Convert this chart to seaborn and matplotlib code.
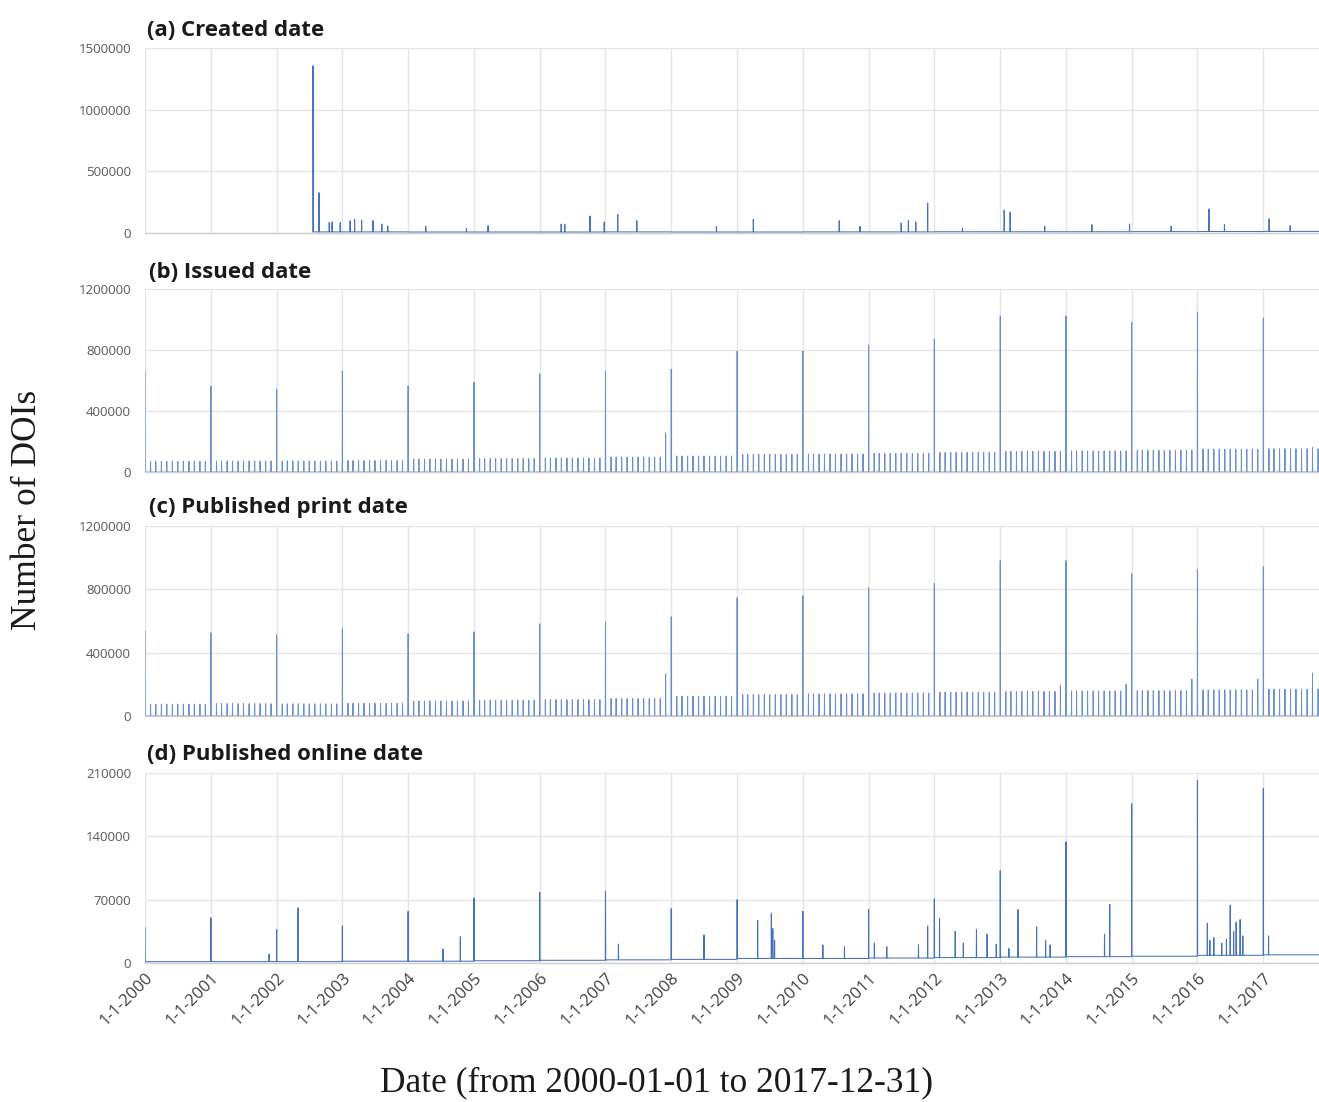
import numpy as np
import pandas as pd
import matplotlib
matplotlib.use("Agg")
import matplotlib.pyplot as plt
import seaborn as sns

# ---------------- data ----------------
years = list(range(2000, 2018))
tick_labels = [f"1-1-{y}" for y in years]

# (a) Created date: no records before mid-2002, then a daily base level per year
created_start = "2002-07-21"
created_base = [0, 0, 9000, 9000, 8000, 8000, 8000, 9000, 8000, 8000,
                9000, 9000, 10000, 10000, 10000, 11000, 12000, 13000]
created_spike_dates = ["2002-07-22", "2002-07-23", "2002-08-24", "2002-10-20", "2002-11-05",
                       "2002-12-20", "2003-02-13", "2003-03-10", "2003-04-18", "2003-06-20",
                       "2003-08-08", "2003-09-10", "2004-04-08", "2004-11-20", "2005-03-20",
                       "2006-04-30", "2006-05-20", "2006-10-07", "2006-12-25", "2007-03-10",
                       "2007-06-24", "2008-09-08", "2009-04-01", "2010-07-22", "2010-11-14",
                       "2011-07-01", "2011-08-10", "2011-09-20", "2011-11-25", "2012-06-05",
                       "2013-01-23", "2013-02-25", "2013-09-05", "2014-05-25", "2014-12-20",
                       "2015-08-08", "2016-03-05", "2016-05-30", "2017-02-02", "2017-05-30"]
created_spike_vals = [1356000, 708000, 327000, 86000, 90000,
                      84000, 100000, 111000, 105000, 100000,
                      73000, 57000, 54000, 38000, 59000,
                      73000, 70000, 138000, 90000, 150000,
                      100000, 54000, 110000, 100000, 54000,
                      80000, 100000, 90000, 243000, 40000,
                      186000, 170000, 54000, 68000, 73000,
                      54000, 195000, 70000, 115000, 60000]

# (b) Issued date: big spike every 1 January, smaller one every first of month
issued_jan = [662000, 564000, 544000, 662000, 564000, 590000, 643000, 662000, 675000,
              793000, 793000, 833000, 872000, 1023000, 1023000, 983000, 1049000, 1010000]
issued_month = [70000, 72000, 72000, 75000, 85000, 88000, 92000, 98000, 105000,
                115000, 118000, 122000, 128000, 135000, 138000, 142000, 150000, 152000]
issued_extra_dates = ["2007-12-01", "2017-10-01"]
issued_extra_vals = [256000, 160000]

# (c) Published print date
print_jan = [538000, 525000, 513000, 551000, 519000, 532000, 582000, 595000, 627000,
             747000, 760000, 810000, 836000, 981000, 981000, 899000, 924000, 943000]
print_month = [75000, 78000, 77000, 80000, 95000, 100000, 103000, 110000, 125000,
               135000, 140000, 145000, 150000, 155000, 158000, 160000, 165000, 170000]
print_extra_dates = ["2007-12-01", "2013-12-01", "2014-12-01", "2015-12-01",
                     "2016-12-01", "2017-10-01"]
print_extra_vals = [266000, 196000, 200000, 232000, 232000, 270000]

# (d) Published online date
online_jan = [39000, 50000, 37000, 41000, 57000, 72000, 78000, 79000, 60000,
              70000, 57000, 59000, 71000, 102000, 134000, 176000, 202000, 193000]
online_base = [1500, 1500, 1500, 2000, 2000, 2500, 3000, 3500, 4000,
               5000, 5000, 5500, 6000, 6500, 7000, 7500, 8500, 9000]
online_spike_dates = ["2001-11-20", "2002-04-30", "2004-07-13", "2004-10-17", "2007-03-14",
                      "2008-07-01", "2009-04-25", "2009-07-10", "2009-07-18", "2009-07-28",
                      "2010-04-22", "2010-08-20", "2011-02-02", "2011-04-12", "2011-10-05",
                      "2011-11-25", "2012-01-30", "2012-04-26", "2012-06-10", "2012-08-22",
                      "2012-10-20", "2012-12-10", "2013-02-18", "2013-04-10", "2013-07-22",
                      "2013-09-10", "2013-10-05", "2014-08-03", "2014-09-01", "2016-02-25",
                      "2016-03-10", "2016-04-01", "2016-05-15", "2016-06-10", "2016-07-01",
                      "2016-07-20", "2016-08-03", "2016-08-25", "2016-09-09", "2017-01-30"]
online_spike_vals = [9600, 61000, 15500, 29000, 21000,
                     31000, 47000, 55000, 38000, 25000,
                     20000, 18000, 22000, 18000, 20000,
                     41000, 49000, 35000, 22000, 37000,
                     32000, 21000, 16000, 59000, 40000,
                     25000, 20000, 32000, 65000, 44000,
                     25000, 28000, 22000, 26000, 64000,
                     35000, 45000, 48000, 30000, 30000]

panel_titles = ["(a) Created date", "(b) Issued date",
                "(c) Published print date", "(d) Published online date"]
y_ticks = [[0, 500000, 1000000, 1500000],
           [0, 400000, 800000, 1200000],
           [0, 400000, 800000, 1200000],
           [0, 70000, 140000, 210000]]

# ---------------- build daily series from the lists ----------------
days = pd.date_range("2000-01-01", "2017-12-31", freq="D")
yi = np.asarray(days.year - 2000)
first = np.asarray(days.day == 1)
jan1 = first & np.asarray(days.month == 1)


def put(series, dates, vals):
    s = pd.Series(series, index=days)
    s.loc[pd.to_datetime(dates)] = vals
    return s.values


created = np.asarray(created_base, float)[yi]
created[days < pd.Timestamp(created_start)] = np.nan
created = put(created, created_spike_dates, created_spike_vals)

issued = np.zeros(len(days))
issued[first] = np.asarray(issued_month, float)[yi[first]]
issued[jan1] = np.asarray(issued_jan, float)[yi[jan1]]
issued = put(issued, issued_extra_dates, issued_extra_vals)

printed = np.zeros(len(days))
printed[first] = np.asarray(print_month, float)[yi[first]]
printed[jan1] = np.asarray(print_jan, float)[yi[jan1]]
printed = put(printed, print_extra_dates, print_extra_vals)

online = np.asarray(online_base, float)[yi]
online[jan1] = np.asarray(online_jan, float)[yi[jan1]]
online = put(online, online_spike_dates, online_spike_vals)

series = [created, issued, printed, online]

# ---------------- drawing ----------------
sns.set_theme(style="white")
plt.rcParams["font.family"] = ["Open Sans", "DejaVu Sans"]

W, H = 1319, 1102
fig = plt.figure(figsize=(W / 100, H / 100), dpi=100)

# (top_px, bottom_px) of each plotting area, title (x_px, y_px)
boxes = [(48, 233), (289, 472), (526, 716), (773, 963)]
title_pos = [(147, 31), (149, 273), (149, 508), (147, 755)]
left_px = 145
line_colors = ["#4672bb", "#6d8fc8", "#6d8fc8", "#4672bb"]
line_widths = [0.75, 0.7, 0.7, 0.75]
xstart = pd.Timestamp("2000-01-01")
xend = pd.Timestamp("2017-11-06")
xticks = [pd.Timestamp(f"{y}-01-01") for y in years]

for i, (top, bot) in enumerate(boxes):
    ax = fig.add_axes([left_px / W, 1 - bot / H, (W - left_px) / W, (bot - top) / H])
    df = pd.DataFrame({"date": days, "value": series[i]})
    sns.lineplot(data=df, x="date", y="value", ax=ax, color=line_colors[i],
                 linewidth=line_widths[i], estimator=None, errorbar=None)
    ax.set_xlim(xstart, xend)
    ax.set_ylim(0, y_ticks[i][-1])
    ax.set_yticks(y_ticks[i])
    ax.set_yticklabels([str(t) for t in y_ticks[i]])
    ax.set_xticks(xticks)
    ax.grid(True, color="#e5e5e5", linewidth=1.0)
    ax.set_axisbelow(True)
    for sp in ["top", "right", "left"]:
        ax.spines[sp].set_visible(False)
    ax.spines["bottom"].set_color("#cfcfcf")
    ax.spines["bottom"].set_linewidth(1.0)
    ax.set_xlabel("")
    ax.set_ylabel("")
    ax.tick_params(axis="y", length=0, pad=10, labelsize=9.5, labelcolor="#595959")
    ax.tick_params(axis="x", length=0)
    if i < 3:
        ax.tick_params(axis="x", labelbottom=False)
    else:
        ax.set_xticklabels(tick_labels)
        ax.tick_params(axis="x", pad=5, labelsize=12, labelcolor="#404040")
        for lab in ax.get_xticklabels():
            lab.set_rotation(45)
            lab.set_ha("right")
            lab.set_rotation_mode("anchor")
    tx, ty = title_pos[i]
    fig.text(tx / W, 1 - ty / H, panel_titles[i], fontsize=16, fontweight="bold",
             color="#1a1a1a", ha="left", va="center")

fig.text(28 / W, 1 - 510 / H, "Number of DOIs", rotation=90, ha="center", va="center",
         fontsize=25.5, family=["Liberation Serif", "DejaVu Serif"], color="#1a1a1a")
fig.text(657 / W, 1 - 1083 / H, "Date (from 2000-01-01 to 2017-12-31)", ha="center",
         va="center", fontsize=25.5, family=["Liberation Serif", "DejaVu Serif"], color="#1a1a1a")

fig.savefig("out.png", dpi=100)
